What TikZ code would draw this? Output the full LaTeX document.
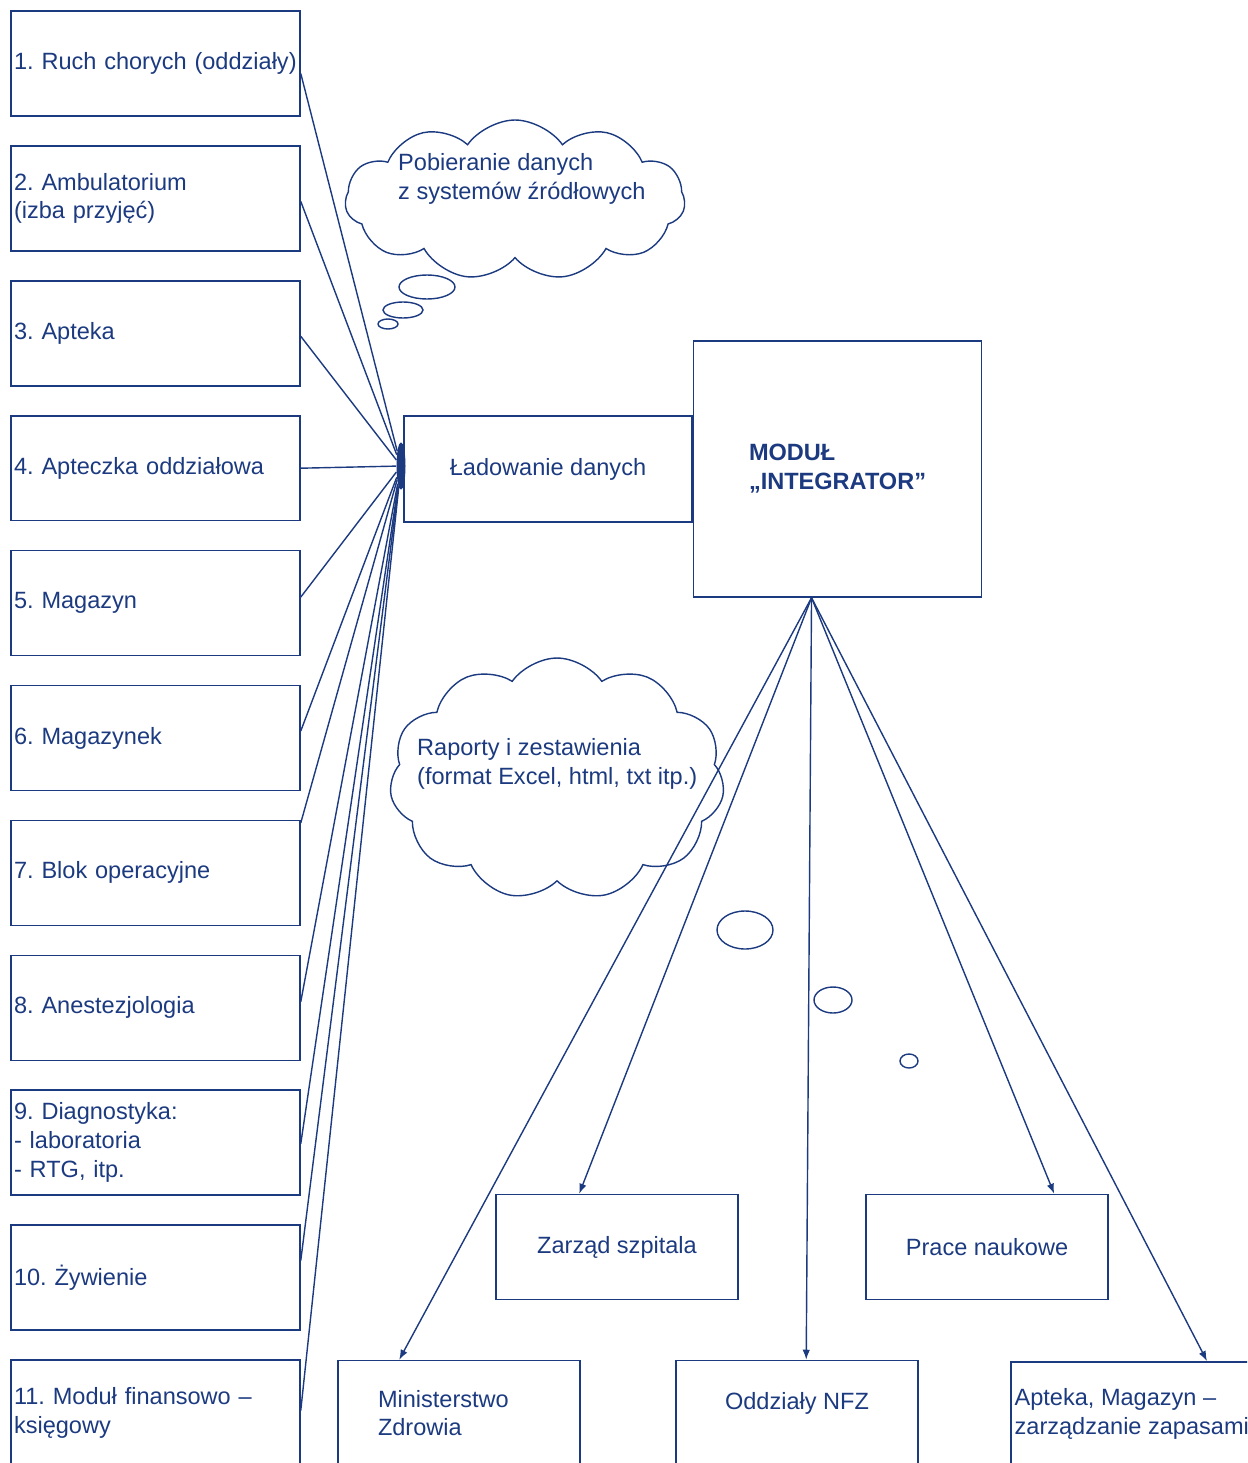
\documentclass[tikz,border=0pt]{standalone}
\usepackage{fontspec}
\setmainfont{Liberation Sans}
\usepackage{xcolor}
\usetikzlibrary{arrows.meta, positioning, shapes.geometric, shapes.symbols}
\definecolor{granat}{RGB}{28,58,128}
\frenchspacing
\hyphenpenalty=10000

\begin{document}
\begin{tikzpicture}[x=0.02cm, y=-0.02cm, >=Latex,
  every node/.style={text=granat, font=\fontsize{13.4}{16.4}\selectfont},
  zrodlo/.style={rectangle, draw=granat, line width=0.9pt, text width=5.66cm,
                 inner xsep=0.06cm, minimum height=2.1cm, align=left},
  odbiorca/.style={rectangle, draw=granat, line width=0.9pt, minimum width=4.84cm,
                   minimum height=2.1cm, align=left},
  linia/.style={draw=granat, line width=0.8pt},
  strzalka/.style={linia, -{Latex[length=0.2cm, width=0.15cm]}},
  babel/.style={ellipse, draw=granat, line width=0.8pt, inner sep=0pt},
  chmura/.style={cloud, draw=granat, line width=0.8pt, cloud puffs=11,
                 cloud puff arc=110, cloud ignores aspect}
]
  \useasboundingbox (0,0) rectangle (1247,1463);
  \clip (0,0) rectangle (1247,1463);

  % zrodla danych
  \foreach \i/\tekst in {1/{1. Ruch chorych (oddziały)}, 2/{2. Ambulatorium\\(izba przyjęć)},
      3/{3. Apteka}, 4/{4. Apteczka oddziałowa}, 5/{5. Magazyn}, 6/{6. Magazynek},
      7/{7. Blok operacyjne}, 8/{8. Anestezjologia}, 9/{9. Diagnostyka:\\- laboratoria\\- RTG, itp.},
      10/{10. Żywienie}, 11/{11. Moduł finansowo –\\księgowy}}
    \node[zrodlo] (z\i) at (155.5, {63.5+134.9*(\i-1)}) {\tekst};

  \node[ellipse, fill=granat, inner sep=0pt, minimum width=0.18cm,
        minimum height=0.95cm] (zbior) at (401,466) {};
  \node[rectangle, draw=granat, line width=0.9pt, minimum width=5.76cm,
        minimum height=2.12cm] (ladowanie) at (548,469) {Ładowanie danych};
  \node[rectangle, draw=granat, line width=0.9pt, minimum width=5.76cm,
        minimum height=5.12cm, align=left, right=0pt of ladowanie,
        font={\fontsize{13.4}{16.4}\selectfont\bfseries}] (modul) {MODUŁ\\„INTEGRATOR”};

  \foreach \i/\d in {1/-0.2, 2/-0.06, 3/-0.06, 4/0, 5/0.12, 6/0.14, 7/1.0,
                     8/0.12, 9/-0.02, 10/0.34, 11/0.04}
    \draw[linia] ([yshift=\d cm]z\i.east) -- (zbior);

  % chmury
  \node[chmura, minimum width=6.8cm, minimum height=3.2cm] (chmura1) at (515,200) {};
  \node[align=left, anchor=west] (opis1) at (392,179) {Pobieranie danych\\z systemów źródłowych};
  \node[babel, minimum width=1.12cm, minimum height=0.48cm] (b11) at (427,287) {};
  \node[babel, minimum width=0.8cm, minimum height=0.32cm] (b12) at (403,310) {};
  \node[babel, minimum width=0.4cm, minimum height=0.2cm] (b13) at (388,324) {};

  \node[chmura, minimum width=6.7cm, minimum height=4.84cm] (chmura2) at (557,779) {};
  \node[align=left, anchor=west] (opis2) at (411,764) {Raporty i zestawienia\\(format Excel, html, txt itp.)};
  \node[babel, minimum width=1.12cm, minimum height=0.76cm] (b21) at (745,930) {};
  \node[babel, minimum width=0.76cm, minimum height=0.52cm] (b22) at (833,1000) {};
  \node[babel, minimum width=0.36cm, minimum height=0.28cm] (b23) at (909,1061) {};

  % odbiorcy
  \node[odbiorca] (zarzad) at (617,1247) {Zarząd szpitala};
  \node[odbiorca] (prace) at (987,1247) {Prace naukowe};
  \node[odbiorca, text width=3.24cm] (minist) at (459,1413) {Ministerstwo\\Zdrowia};
  \node[odbiorca, text depth=0.5cm] (nfz) at (797,1413) {Oddziały NFZ};
  \node[odbiorca, anchor=north west, inner xsep=0.04cm] (apteka) at (1010,1361)
       {Apteka, Magazyn –\\zarządzanie zapasami};

  \coordinate (wyjscie) at ([xshift=-0.52cm]modul.south);
  \draw[strzalka] (wyjscie) -- ([xshift=1.24cm]minist.north west);
  \draw[strzalka] (wyjscie) -- ([xshift=1.68cm]zarzad.north west);
  \draw[strzalka] (wyjscie) -- ([xshift=2.62cm]nfz.north west);
  \draw[strzalka] (wyjscie) -- ([xshift=3.78cm]prace.north west);
  \draw[strzalka] (wyjscie) -- ([xshift=3.94cm]apteka.north west);
\end{tikzpicture}
\end{document}
